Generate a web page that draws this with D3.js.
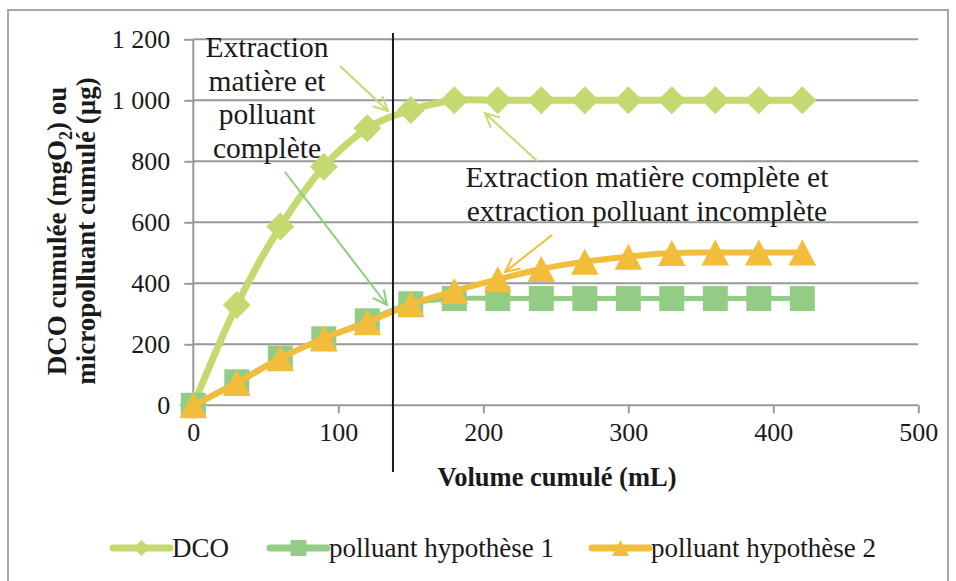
<!DOCTYPE html>
<html><head><meta charset="utf-8">
<script src="https://cdn.jsdelivr.net/npm/d3@7/dist/d3.min.js"></script>
</head>
<body style="margin:0">
<svg id="c" width="956" height="581"></svg>
<script>
const volumes = [0,30,60,90,120,150,180,210,240,270,300,330,360,390,420];
const dco = [0,329,586,782,908,968,1000,1000,1000,1000,1000,1000,1000,1000,1000];
const polluant1 = [0,77,155,218,277,333,350,350,350,350,350,350,350,350,350];
const polluant2 = [0,73,154,220,272,331,375,413,447,471,487,499,501,501,501];
const seriesNames = ["DCO","polluant hypothèse 1","polluant hypothèse 2"];
const xTicks = [0,100,200,300,400,500];
const yTicks = [0,200,400,600,800,1000,1200];
const limitVolume = 137.7;

const FONT = "Liberation Serif";
const INK = "#1a1a1a";
const colors = ["#c4da70","#93cd85","#f2bd3b"];
const svg = d3.select("#c");
const x = d3.scaleLinear().domain([0,500]).range([193.3,918.3]);
const y = d3.scaleLinear().domain([0,1200]).range([405.3,39.3]);
const fmt = v => v>=1000 ? d3.format(",")(v).replace(","," ") : String(v);
const T = (sel,size,bold)=>{
  sel.style("font-family",`"${FONT}"`).attr("font-size",size).attr("fill",INK);
  if(bold) sel.attr("font-weight","bold");
  return sel;
};

// outer frame
svg.append("rect").attr("x",8).attr("y",10).attr("width",940).attr("height",600)
  .attr("fill","none").attr("stroke","#a6a6a6").attr("stroke-width",2);
// gridlines
svg.append("g").selectAll("line").data(yTicks.filter(d=>d>0)).join("line")
  .attr("x1",x(0)).attr("x2",x(500)).attr("y1",d=>y(d)).attr("y2",d=>y(d))
  .attr("stroke","#999").attr("stroke-width",2);

// axes
const yAxis = svg.append("g").attr("transform",`translate(${x(0)},0)`)
  .call(d3.axisLeft(y).tickValues(yTicks).tickSize(9).tickPadding(14).tickFormat(fmt));
const xAxis = svg.append("g").attr("transform",`translate(0,${y(0)})`)
  .call(d3.axisBottom(x).tickValues(xTicks).tickSize(8).tickPadding(9));
[yAxis,xAxis].forEach(a=>{
  a.attr("font-family",null).attr("font-size",null);
  a.select(".domain").attr("stroke","#999").attr("stroke-width",2);
  a.selectAll(".tick line").attr("stroke","#999").attr("stroke-width",2);
  T(a.selectAll("text"),26);
});
yAxis.select(".domain").attr("d",`M0,${y(1200)}V${y(0)}`);
xAxis.select(".domain").attr("d",`M${x(0)},0H${x(500)}`);

// markers
const markerPaths = [
  s=>`M0,${-s/2}L${s/2},0L0,${s/2}L${-s/2},0Z`,
  s=>`M${-s/2},${-s/2}H${s/2}V${s/2}H${-s/2}Z`,
  s=>`M0,${-s/2}L${s*0.53},${s/2}L${-s*0.53},${s/2}Z`
];
const markerSizes = [28,25,26];

// series
const line = d3.line().x((d,i)=>x(volumes[i])).y(d=>y(d)).curve(d3.curveCatmullRom.alpha(0));
const allSeries = [dco,polluant1,polluant2];
const widths = [7,5,6];
allSeries.forEach((s,k)=>{
  const g = svg.append("g");
  g.append("path").attr("d",line(s)).attr("fill","none").attr("stroke",colors[k])
    .attr("stroke-width",widths[k]).attr("stroke-linejoin","round");
  g.selectAll("path.m").data(s).join("path").attr("class","m")
    .attr("transform",(d,i)=>`translate(${x(volumes[i])},${y(d)})`)
    .attr("d",markerPaths[k](markerSizes[k])).attr("fill",colors[k]);
});

// vertical limit line
svg.append("line").attr("x1",x(limitVolume)).attr("x2",x(limitVolume)).attr("y1",33).attr("y2",472)
  .attr("stroke",INK).attr("stroke-width",2);

// annotation arrows
function arrow(x1,y1,x2,y2,col){
  svg.append("line").attr("x1",x1).attr("y1",y1).attr("x2",x2).attr("y2",y2)
    .attr("stroke",col).attr("stroke-width",2);
  const a = Math.atan2(y2-y1,x2-x1), L=16, sp=0.45;
  svg.append("path").attr("d",`M${x2-L*Math.cos(a-sp)},${y2-L*Math.sin(a-sp)}L${x2},${y2}L${x2-L*Math.cos(a+sp)},${y2-L*Math.sin(a+sp)}`)
    .attr("fill","none").attr("stroke",col).attr("stroke-width",2);
}
arrow(340,66,388,111,colors[0]);
arrow(285,172,387,305,"#8ccf7e");
arrow(537,161,485,113,colors[0]);
arrow(552,235,505,272,colors[2]);

// annotation texts
const ann1 = ["Extraction","matière et","polluant","complète"];
T(svg.append("g").selectAll("text").data(ann1).join("text")
  .attr("x",267).attr("y",(d,i)=>57+i*33.5).attr("text-anchor","middle").text(d=>d),29.5);
const ann2 = ["Extraction matière complète et","extraction polluant incomplète"];
T(svg.append("g").selectAll("text").data(ann2).join("text")
  .attr("x",647).attr("y",(d,i)=>187+i*34).attr("text-anchor","middle").text(d=>d),29.5);

// axis titles
T(svg.append("text").attr("x",557).attr("y",486).attr("text-anchor","middle")
  .text("Volume cumulé (mL)"),26.5,true);
const yt = T(svg.append("text").attr("transform","translate(0,231) rotate(-90)")
  .attr("text-anchor","middle"),27,true);
const t1 = yt.append("tspan").attr("x",0).attr("y",66);
t1.append("tspan").text("DCO cumulée (mgO");
t1.append("tspan").attr("font-size",18).attr("dy",6).text("2");
t1.append("tspan").attr("dy",-6).text(") ou");
yt.append("tspan").attr("x",0).attr("y",95).text("micropolluant cumulé (µg)");

// legend
const legX = [113,270,592];
const lg = svg.append("g");
seriesNames.forEach((n,k)=>{
  const cx = legX[k];
  lg.append("line").attr("x1",cx).attr("x2",cx+57).attr("y1",548).attr("y2",548)
    .attr("stroke",colors[k]).attr("stroke-width",7).attr("stroke-linecap","round");
  lg.append("path").attr("transform",`translate(${cx+28.5},548)`)
    .attr("d",markerPaths[k](16)).attr("fill",colors[k]);
  T(lg.append("text").attr("x",cx+59).attr("y",557).text(n),27);
});
</script>
</body></html>
